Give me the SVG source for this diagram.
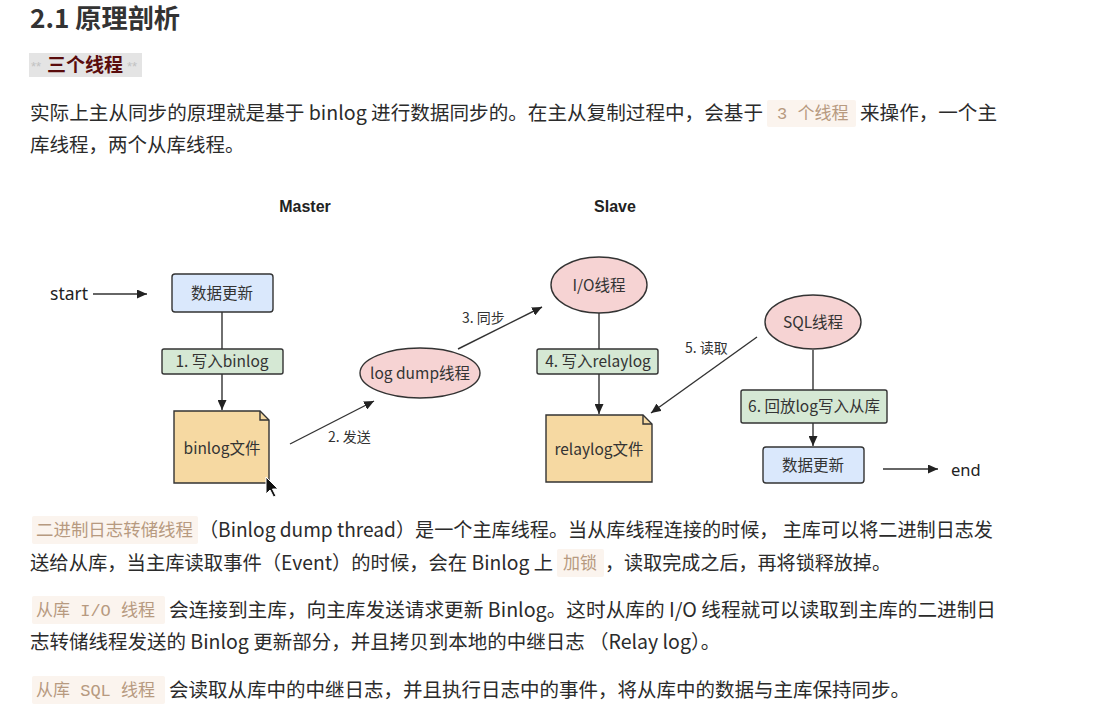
<svg xmlns="http://www.w3.org/2000/svg" width="1098" height="710" viewBox="0 0 1098 710">
<style>
.body{font-family:"Noto Sans CJK SC","Liberation Sans",sans-serif;font-size:19.5px;fill:#2b2b2b}
.code{font-family:"Liberation Mono","Noto Sans CJK SC",monospace;font-size:17px;fill:#b79a80}
.codebg{fill:#fbf4ee}
.lbl{font-family:"Noto Sans CJK SC","Liberation Sans",sans-serif;font-size:15.5px;fill:#333;text-anchor:middle}
.elbl{font-family:"Noto Sans CJK SC","Liberation Sans",sans-serif;font-size:14px;fill:#333}
.hdr{font-family:"Liberation Sans","Noto Sans CJK SC",sans-serif;font-size:16px;font-weight:bold;fill:#222;text-anchor:middle}
.blue{fill:#dae8fc;stroke:#333;stroke-width:1.4}
.green{fill:#d5e8d4;stroke:#333;stroke-width:1.4}
.doc{fill:#f6d9a2;stroke:#333;stroke-width:1.4}
.ell{fill:#f6d3d3;stroke:#333;stroke-width:1.4}
.edge{stroke:#333;stroke-width:1.4;fill:none}
</style>
<defs>
<marker id="arr" markerUnits="userSpaceOnUse" markerWidth="11" markerHeight="9" refX="10" refY="4.5" orient="auto">
<path d="M0,0 L10,4.5 L0,9 Z" fill="#222"/>
</marker>
</defs>
<rect width="1098" height="710" fill="#fff"/>

<g id="title">
<text x="30" y="28" font-family="'Noto Sans CJK SC','Liberation Sans',sans-serif" font-size="26" font-weight="bold" fill="#333" textLength="150" lengthAdjust="spacingAndGlyphs">2.1 原理剖析</text>
</g>
<g id="subtitle">
<rect x="29" y="53" width="113" height="24" fill="#e4e4e4"/>
<text x="31" y="71" font-family="'Liberation Sans',sans-serif" font-size="13" fill="#c2c2c2">**</text>
<text x="127" y="71" font-family="'Liberation Sans',sans-serif" font-size="13" fill="#c2c2c2">**</text>
<text x="47" y="72" font-family="'Noto Sans CJK SC',sans-serif" font-size="19" font-weight="bold" fill="#5a0c0c">三个线程</text>
</g>

<g id="para1">
<text class="body" x="30" y="120" textLength="733" lengthAdjust="spacingAndGlyphs">实际上主从同步的原理就是基于 binlog 进行数据同步的。在主从复制过程中，会基于</text>
<rect class="codebg" x="767" y="100" width="89" height="27" rx="2"/>
<text class="code" x="777" y="119">3 个线程</text>
<text class="body" x="860" y="120" textLength="137" lengthAdjust="spacingAndGlyphs">来操作，一个主</text>
<text class="body" x="30" y="152">库线程，两个从库线程。</text>
</g>

<g id="connectors">
<line class="edge" x1="93" y1="294" x2="147" y2="294" marker-end="url(#arr)"/>
<line class="edge" x1="222" y1="312" x2="222" y2="410" marker-end="url(#arr)"/>
<line class="edge" x1="290" y1="444" x2="374" y2="401" marker-end="url(#arr)"/>
<line class="edge" x1="458" y1="349" x2="542" y2="307" marker-end="url(#arr)"/>
<line class="edge" x1="599" y1="313" x2="599" y2="414" marker-end="url(#arr)"/>
<line class="edge" x1="757" y1="337" x2="651" y2="413" marker-end="url(#arr)"/>
<line class="edge" x1="813" y1="350" x2="813" y2="446" marker-end="url(#arr)"/>
<line class="edge" x1="883" y1="469" x2="938" y2="469" marker-end="url(#arr)"/>
<rect class="green" x="162" y="349" width="121" height="25" rx="2"/>
<text class="lbl" x="222" y="367">1. 写入binlog</text>
<text class="elbl" x="328" y="442">2. 发送</text>
<text class="elbl" x="462" y="323">3. 同步</text>
<rect class="green" x="537" y="349" width="121" height="25" rx="2"/>
<text class="lbl" x="598" y="367">4. 写入relaylog</text>
<text class="elbl" x="685" y="353">5. 读取</text>
<rect class="green" x="741" y="390" width="146" height="33" rx="2"/>
<text class="lbl" x="814" y="412">6. 回放log写入从库</text>
</g>

<g id="labels">
<text class="hdr" x="305" y="212">Master</text>
<text class="hdr" x="615" y="212">Slave</text>
<text x="50" y="300" font-family="'Noto Sans','Liberation Sans',sans-serif" font-size="17.5" fill="#222">start</text>
<text x="951" y="476" font-family="'Noto Sans','Liberation Sans',sans-serif" font-size="16.5" fill="#222">end</text>
</g>

<g id="n-update1">
<rect class="blue" x="172" y="274" width="101" height="38" rx="3"/>
<text class="lbl" x="222" y="299">数据更新</text>
</g>
<g id="n-binlog">
<path class="doc" d="M174,411 H260 L269,420 V483 H174 Z"/>
<path class="edge" d="M260,411 V420 H269"/>
<text class="lbl" x="222" y="454">binlog文件</text>
</g>
<g id="n-dump">
<ellipse class="ell" cx="420" cy="373" rx="60" ry="25"/>
<text class="lbl" x="420" y="379">log dump线程</text>
</g>
<g id="n-io">
<ellipse class="ell" cx="599" cy="285" rx="48" ry="28"/>
<text class="lbl" x="599" y="291">I/O线程</text>
</g>
<g id="n-relay">
<path class="doc" d="M546,415 H643 L652,424 V482 H546 Z"/>
<path class="edge" d="M643,415 V424 H652"/>
<text class="lbl" x="599" y="455">relaylog文件</text>
</g>
<g id="n-sql">
<ellipse class="ell" cx="813" cy="322" rx="48" ry="27"/>
<text class="lbl" x="813" y="328">SQL线程</text>
</g>
<g id="n-update2">
<rect class="blue" x="763" y="447" width="101" height="36" rx="3"/>
<text class="lbl" x="813" y="471">数据更新</text>
</g>

<g id="cursor">
<path d="M266,477 L266,494 L270,490 L273.5,497 L276,496 L272.5,489 L278,489 Z" fill="#111" stroke="#fff" stroke-width="1"/>
</g>

<g id="para2">
<rect class="codebg" x="32" y="516" width="166" height="28" rx="2"/>
<text class="code" x="36" y="536" textLength="157" lengthAdjust="spacingAndGlyphs">二进制日志转储线程</text>
<text class="body" x="199" y="537" textLength="794" lengthAdjust="spacingAndGlyphs">（Binlog dump thread）是一个主库线程。当从库线程连接的时候， 主库可以将二进制日志发</text>
<text class="body" x="30" y="570" textLength="523" lengthAdjust="spacingAndGlyphs">送给从库，当主库读取事件（Event）的时候，会在 Binlog 上</text>
<rect class="codebg" x="557" y="549" width="47" height="28" rx="2"/>
<text class="code" x="563" y="569">加锁</text>
<text class="body" x="605" y="570" textLength="286" lengthAdjust="spacingAndGlyphs">，读取完成之后，再将锁释放掉。</text>
</g>

<g id="para3">
<rect class="codebg" x="32" y="596" width="133" height="28" rx="2"/>
<text class="code" x="36" y="616">从库 I/O 线程</text>
<text class="body" x="169" y="617" textLength="827" lengthAdjust="spacingAndGlyphs">会连接到主库，向主库发送请求更新 Binlog。这时从库的 I/O 线程就可以读取到主库的二进制日</text>
<text class="body" x="30" y="649">志转储线程发送的 Binlog 更新部分，并且拷贝到本地的中继日志 （Relay log）。</text>
</g>

<g id="para4">
<rect class="codebg" x="32" y="676" width="133" height="28" rx="2"/>
<text class="code" x="36" y="696">从库 SQL 线程</text>
<text class="body" x="169" y="697" textLength="741" lengthAdjust="spacingAndGlyphs">会读取从库中的中继日志，并且执行日志中的事件，将从库中的数据与主库保持同步。</text>
</g>
</svg>
